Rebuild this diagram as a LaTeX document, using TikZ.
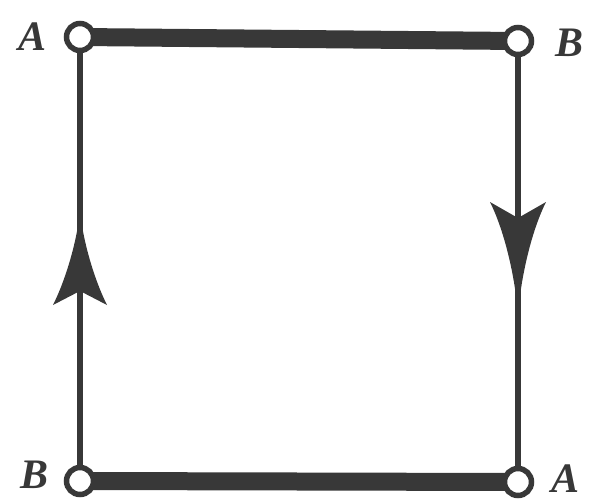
\documentclass[tikz,border=0pt]{standalone}
\usepackage{fontspec}
\setmainfont{Liberation Serif}
\usetikzlibrary{decorations.markings}
\definecolor{ink}{HTML}{383838}
\tikzset{
  port/.style={circle, draw=ink, fill=white, line width=5.5pt, minimum size=27pt, inner sep=0pt},
  bar/.style={draw=ink, line width=18pt},
  wire/.style={draw=ink, line width=5.5pt},
  lbl/.style={text=ink, font=\fontsize{42}{42}\selectfont\bfseries\itshape, inner sep=0pt},
  upmark/.style={postaction={decorate}, decoration={markings, mark=at position #1 with {
    \fill[ink] (0,0) .. controls (-30,3) and (-68,14) .. (-94,27) -- (-80,0) -- (-94,-27) .. controls (-68,-14) and (-30,-3) .. (0,0) -- cycle;}}},
  downmark/.style={postaction={decorate}, decoration={markings, mark=at position #1 with {
    \fill[ink] (0,0) .. controls (-40,3) and (-85,14) .. (-113,28) -- (-97,0) -- (-113,-28) .. controls (-85,-14) and (-40,-3) .. (0,0) -- cycle;}}}
}
\begin{document}
\begin{tikzpicture}[x=1pt,y=-1pt]
\useasboundingbox (0,0) rectangle (590,501);
\coordinate (tlc) at (80,37);
\coordinate (trc) at (518,41);
\coordinate (blc) at (80,481);
\coordinate (brc) at (518,482);
% bars and wires
\draw[bar] (tlc) -- (trc);
\draw[bar] (blc) -- (brc);
\draw[wire, upmark=270pt] (blc) -- (tlc);
\draw[wire, downmark=274pt] (trc) -- (brc);
% terminals
\node[port] (tl) at (tlc) {};
\node[port] (tr) at (trc) {};
\node[port] (bl) at (blc) {};
\node[port] (br) at (brc) {};
% labels
\node[lbl] (la1) at (33,37) {A};
\node[lbl] (lb1) at (570,43) {B};
\node[lbl] (lb2) at (35,475) {B};
\node[lbl] (la2) at (566,479) {A};
\end{tikzpicture}
\end{document}
